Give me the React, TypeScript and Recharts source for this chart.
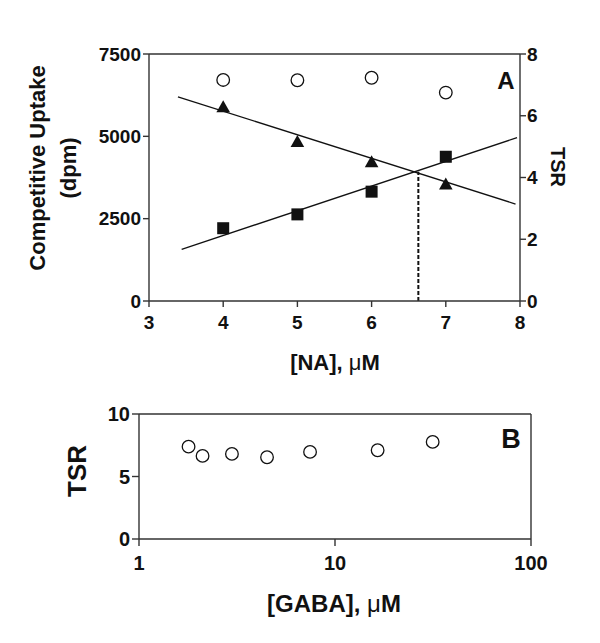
import React from 'react';
import { ScatterChart, Scatter, XAxis, YAxis, ReferenceLine } from 'recharts';

// Panel A: [NA] titration
const naConc = [4, 5, 6, 7];
const triangleUptake = [5900, 4840, 4230, 3550];
const squareUptake = [2210, 2630, 3320, 4380];
const tsrA = [7.16, 7.15, 7.23, 6.75];
const triangleFitX = [3.39, 7.94];
const triangleFitY = [6200, 2945];
const squareFitX = [3.44, 7.96];
const squareFitY = [1570, 4960];
const crossX = 6.63;
const crossY = 3925;
const naTicks = [3, 4, 5, 6, 7, 8];
const dpmTicks = [0, 2500, 5000, 7500];
const tsrTicksA = [0, 2, 4, 6, 8];

// Panel B: [GABA] titration
const gabaConc = [1.79, 2.11, 2.98, 4.5, 7.46, 16.5, 31.5];
const tsrB = [7.39, 6.65, 6.81, 6.54, 6.97, 7.1, 7.77];
const gabaTicks = [1, 10, 100];
const tsrTicksB = [0, 5, 10];

const FONT = '"Liberation Sans", Arial, sans-serif';
const INK = '#111';
const AXIS = '#333';

const zip = (xs: number[], ys: number[]) => xs.map((x, i) => ({ x, y: ys[i] }));

const triangleData = zip(naConc, triangleUptake);
const squareData = zip(naConc, squareUptake);
const circleDataA = zip(naConc, tsrA);
const triangleFit = zip(triangleFitX, triangleFitY);
const squareFit = zip(squareFitX, squareFitY);
const circleDataB = zip(gabaConc, tsrB);

const Triangle = (p: any) => (
  <polygon
    points={`${p.cx},${p.cy - 6.5} ${p.cx - 6.8},${p.cy + 5.5} ${p.cx + 6.8},${p.cy + 5.5}`}
    fill={INK}
  />
);
const Square = (p: any) => <rect x={p.cx - 6} y={p.cy - 6} width={12} height={12} fill={INK} />;
const OpenCircle = (p: any) => <circle cx={p.cx} cy={p.cy} r={6.3} fill="#fff" stroke={INK} strokeWidth={1.3} />;
const NoDot = () => <g />;

const tickStyle = { fontFamily: FONT, fontWeight: 700, fontSize: 19, fill: INK };
const axisLine = { stroke: AXIS, strokeWidth: 1.4 };

const Mu = () => <tspan fontWeight={400}>μ</tspan>;

const UptakeTitle = () => (
  <text transform="rotate(-90, 52, 168)" x={52} y={168} textAnchor="middle" fontFamily={FONT} fontWeight={700} fontSize={22} fill={INK}>
    <tspan x={52} dy={-7}>Competitive Uptake</tspan>
    <tspan x={52} dy={31}>(dpm)</tspan>
  </text>
);
const TsrTitleA = () => (
  <text transform="rotate(90, 558, 167)" x={558} y={167} textAnchor="middle" dominantBaseline="central" fontFamily={FONT} fontWeight={700} fontSize={20} fill={INK}>
    TSR
  </text>
);
const NaTitle = () => (
  <text x={335} y={362} textAnchor="middle" dominantBaseline="central" fontFamily={FONT} fontWeight={700} fontSize={22} fill={INK}>
    [NA], <Mu />M
  </text>
);
const PanelA = () => (
  <text x={506} y={80} textAnchor="middle" dominantBaseline="central" fontFamily={FONT} fontWeight={700} fontSize={24} fill={INK}>
    A
  </text>
);

const TsrTitleB = () => (
  <text transform="rotate(-90, 77, 101)" x={77} y={101} textAnchor="middle" dominantBaseline="central" fontFamily={FONT} fontWeight={700} fontSize={26} fill={INK}>
    TSR
  </text>
);
const GabaTitle = () => (
  <text x={334} y={233} textAnchor="middle" dominantBaseline="central" fontFamily={FONT} fontWeight={700} fontSize={24} fill={INK}>
    [GABA], <Mu />M
  </text>
);
const PanelB = () => (
  <text x={511} y={69} textAnchor="middle" dominantBaseline="central" fontFamily={FONT} fontWeight={700} fontSize={27} fill={INK}>
    B
  </text>
);

export default function App() {
  return (
    <div style={{ position: 'absolute', left: 0, top: 0, width: 600, height: 643, background: '#fff' }}>
      <div style={{ position: 'absolute', left: 0, top: 0 }}>
        <ScatterChart width={600} height={380} margin={{ top: 54, right: 40, bottom: 50, left: 59 }}>
          <XAxis
            dataKey="x"
            type="number"
            domain={[3, 8]}
            ticks={naTicks}
            height={29}
            tickSize={6}
            tickMargin={9}
            tick={tickStyle}
            axisLine={axisLine}
            tickLine={axisLine}
            label={<NaTitle />}
          />
          <YAxis
            yAxisId="dpm"
            dataKey="y"
            type="number"
            domain={[0, 7500]}
            ticks={dpmTicks}
            width={90}
            tickSize={6}
            tickMargin={2}
            tick={tickStyle}
            axisLine={axisLine}
            tickLine={axisLine}
            label={<UptakeTitle />}
          />
          <YAxis
            yAxisId="tsr"
            orientation="right"
            dataKey="y"
            type="number"
            domain={[0, 8]}
            ticks={tsrTicksA}
            width={40}
            tickSize={6}
            tickMargin={1}
            tick={{ ...tickStyle, textAnchor: 'start' }}
            axisLine={axisLine}
            tickLine={axisLine}
            label={<TsrTitleA />}
          />
          <ReferenceLine yAxisId="dpm" y={7500} stroke={AXIS} strokeWidth={1.4} label={<PanelA />} />
          <ReferenceLine
            yAxisId="dpm"
            segment={[{ x: crossX, y: 0 }, { x: crossX, y: crossY }]}
            stroke={INK}
            strokeWidth={2}
            strokeDasharray="4 2"
          />
          <Scatter yAxisId="dpm" data={triangleFit} line={{ stroke: INK, strokeWidth: 1.3 }} shape={NoDot} isAnimationActive={false} />
          <Scatter yAxisId="dpm" data={squareFit} line={{ stroke: INK, strokeWidth: 1.3 }} shape={NoDot} isAnimationActive={false} />
          <Scatter yAxisId="dpm" data={triangleData} shape={Triangle} isAnimationActive={false} />
          <Scatter yAxisId="dpm" data={squareData} shape={Square} isAnimationActive={false} />
          <Scatter yAxisId="tsr" data={circleDataA} shape={OpenCircle} isAnimationActive={false} />
        </ScatterChart>
      </div>
      <div style={{ position: 'absolute', left: 0, top: 370 }}>
        <ScatterChart width={600} height={270} margin={{ top: 44, right: 69, bottom: 71, left: 59 }}>
          <XAxis
            dataKey="x"
            type="number"
            scale="log"
            domain={[1, 100]}
            ticks={gabaTicks}
            allowDataOverflow
            height={30}
            tickSize={7}
            tickMargin={10}
            tick={{ ...tickStyle, fontSize: 20 }}
            axisLine={axisLine}
            tickLine={axisLine}
            label={<GabaTitle />}
          />
          <YAxis
            dataKey="y"
            type="number"
            domain={[0, 10]}
            ticks={tsrTicksB}
            width={80}
            tickSize={7}
            tickMargin={2}
            tick={{ ...tickStyle, fontSize: 20 }}
            axisLine={axisLine}
            tickLine={axisLine}
            label={<TsrTitleB />}
          />
          <ReferenceLine y={10} stroke={AXIS} strokeWidth={1.4} label={<PanelB />} />
          <ReferenceLine x={100} stroke={AXIS} strokeWidth={1.4} />
          <Scatter data={circleDataB} shape={OpenCircle} isAnimationActive={false} />
        </ScatterChart>
      </div>
    </div>
  );
}
